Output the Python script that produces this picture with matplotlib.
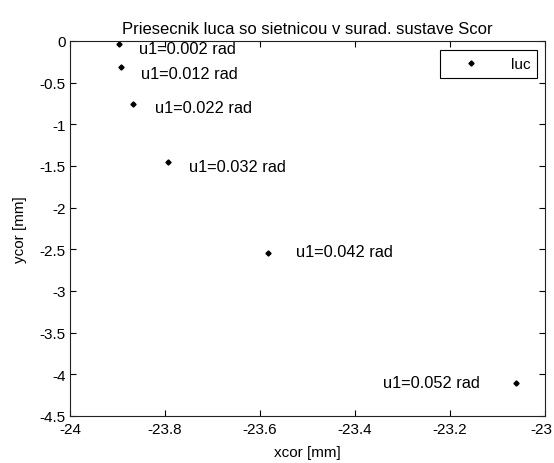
import matplotlib.pyplot as plt
import matplotlib.transforms as mtransforms

plt.rcParams['font.family'] = ['Liberation Sans', 'DejaVu Sans']

# intersection points of the ray with the retina (Scor)
xcor = [-23.896, -23.893, -23.868, -23.794, -23.5825, -23.062]
ycor = [-0.036, -0.316, -0.76, -1.449, -2.548, -4.104]
u1 = [0.002, 0.012, 0.022, 0.032, 0.042, 0.052]

xticks = [-24, -23.8, -23.6, -23.4, -23.2, -23]
xticklabels = ['-24', '-23.8', '-23.6', '-23.4', '-23.2', '-23']
yticks = [0, -0.5, -1, -1.5, -2, -2.5, -3, -3.5, -4, -4.5]
yticklabels = ['0', '-0.5', '-1', '-1.5', '-2', '-2.5', '-3', '-3.5', '-4', '-4.5']

# label offsets in pixels (dx, dy) and alignment
offsets = [(20, -5), (20, -6), (22, -3), (21, -5), (28, 2), (-36, 0)]
aligns = ['left', 'left', 'left', 'left', 'left', 'right']

fs = 11

fig = plt.figure(figsize=(5.54, 4.64), dpi=100)
ax = fig.add_axes([70 / 554, 1 - 417 / 464, 475 / 554, 375 / 464])

ax.plot(xcor, ycor, linestyle='none', marker='D', markersize=2.6,
        color='black', label='luc')

for x, y, u, (dx, dy), ha in zip(xcor, ycor, u1, offsets, aligns):
    ax.annotate('u1=%g rad' % u, (x, y), xytext=(dx * 0.72, dy * 0.72),
                textcoords='offset points', ha=ha, va='center', fontsize=11.8)

ax.set_xlim(-24, -23)
ax.set_ylim(-4.5, 0)
ax.set_xticks(xticks)
ax.set_xticklabels(xticklabels)
ax.set_yticks(yticks)
ax.set_yticklabels(yticklabels)
ax.tick_params(direction='in', top=True, right=True, length=4, width=0.8,
               labelsize=fs, pad=3)
ax.tick_params(axis='x', pad=4)
for s in ax.spines.values():
    s.set_linewidth(0.8)
    s.set_color('#222222')

# keep the last x tick label inside the figure
last = ax.get_xticklabels()[-1]
last.set_transform(last.get_transform() +
                   mtransforms.ScaledTranslation(-4 / 100, 0, fig.dpi_scale_trans))

ax.set_title('Priesecnik luca so sietnicou v surad. sustave Scor', fontsize=12, pad=6)
ax.set_xlabel('xcor [mm]', fontsize=fs, labelpad=7)
ax.set_ylabel('ycor [mm]', fontsize=fs, labelpad=9)

leg = ax.legend(loc='upper right', bbox_to_anchor=(0.9838, 0.976), borderaxespad=0,
                fancybox=False, edgecolor='black', framealpha=1, fontsize=fs,
                handlelength=3.2, handletextpad=1.0, borderpad=0.45)
leg.get_frame().set_linewidth(0.8)

plt.savefig('out.png', dpi=100)
